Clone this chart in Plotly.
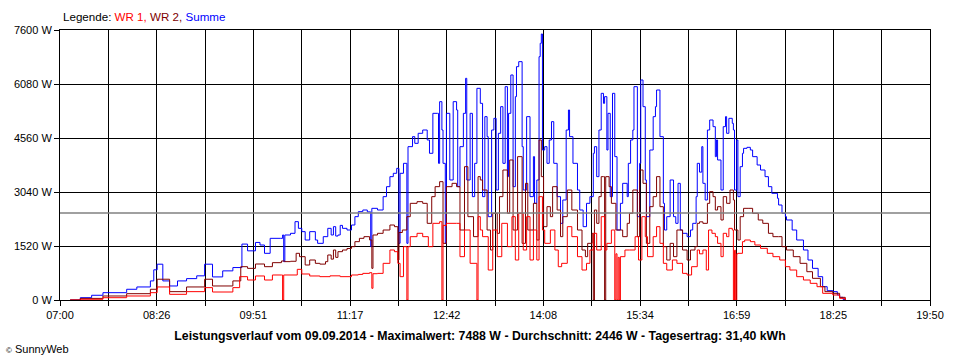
import plotly.graph_objects as go

# ---------------- data ----------------
t_summe = ["07:09","07:18","07:28","07:38","07:59","08:08","08:20","08:23","08:26","08:31","08:37","08:44","08:52","09:01","09:08","09:15","09:24","09:33","09:41","09:46","09:53","09:57","10:01","10:06","10:15","10:17","10:18","10:19","10:24","10:28","10:31","10:34","10:37","10:41","10:46","10:48","10:53","10:57","11:00","11:02","11:04","11:06","11:08","11:10","11:14","11:18","11:21","11:24","11:28","11:32","11:35","11:36","11:41","11:46","11:49","11:52","11:55","11:58","12:00","12:01","12:04","12:07","12:08","12:12","12:14","12:17","12:21","12:25","12:27","12:30","12:34","12:35","12:36","12:38","12:39","12:41","12:42","12:45","12:48","12:51","12:52","12:54","12:57","12:59","13:00","13:03","13:05","13:07","13:09","13:12","13:14","13:16","13:18","13:19","13:22","13:24","13:26","13:28","13:30","13:32","13:34","13:36","13:37","13:39","13:41","13:43","13:44","13:46","13:49","13:50","13:53","13:56","13:59","14:00","14:02","14:04","14:05","14:06","14:07","14:09","14:11","14:13","14:15","14:17","14:20","14:23","14:25","14:28","14:30","14:31","14:34","14:38","14:40","14:43","14:46","14:49","14:52","14:53","14:55","14:57","14:59","15:01","15:02","15:04","15:05","15:07","15:09","15:11","15:13","15:16","15:18","15:22","15:23","15:25","15:27","15:28","15:31","15:33","15:34","15:36","15:38","15:39","15:42","15:45","15:47","15:48","15:51","15:54","15:55","15:57","16:00","16:03","16:05","16:07","16:09","16:11","16:15","16:18","16:20","16:23","16:24","16:26","16:28","16:29","16:31","16:33","16:35","16:38","16:40","16:41","16:42","16:45","16:47","16:49","16:50","16:52","16:55","16:56","16:57","16:59","17:00","17:02","17:04","17:05","17:08","17:11","17:13","17:17","17:20","17:24","17:27","17:30","17:35","17:36","17:39","17:42","17:43","17:48","17:52","17:58","18:02","18:06","18:11","18:15","18:19","18:24","18:28","18:30","18:33","18:35"]
summe = [0,65,133,206,302,367,537,850,1008,537,395,537,602,680,1008,650,820,913,1574,1384,1620,1548,1314,1736,1736,1830,1079,1830,1877,2205,2017,1924,1689,1924,1689,1595,1783,2017,1830,2064,1800,1830,2100,2017,1970,2111,2346,2487,2533,2480,1501,2580,2533,2909,3190,3472,3566,3706,1595,3566,3847,1595,4316,4598,4410,4692,4785,4504,4129,5254,5254,3847,5583,4785,3847,1595,5254,3378,5583,5348,3190,4316,5254,6240,3378,5254,2909,3847,5958,5536,2909,5161,4598,2346,4785,5114,3096,4692,5442,3847,6005,3472,5254,6334,3190,5724,6568,6709,4316,3096,5161,2909,4035,2721,3378,6849,7225,7488,4222,4316,3847,4504,5020,3847,2909,2158,2815,4785,5348,4598,3847,3096,2533,2064,2721,2909,4129,4316,3472,4785,5817,5536,5724,4222,5254,2909,5817,4035,1970,2721,3284,2909,3847,4504,4785,6005,2346,3847,6193,5442,3378,2346,4222,5161,5442,5911,4598,2721,1970,2346,3378,2346,2158,3284,1970,1877,1783,1970,2158,2909,3847,3600,4316,3284,2815,4785,5067,4879,4035,4504,3941,3096,4879,5161,4692,5114,4973,4785,3096,4504,2909,3753,4129,4269,4297,4222,4035,3800,3659,3472,3190,3003,2862,2674,2440,2346,2252,1970,1689,1407,1126,891,657,375,263,235,141,75,19,0]

t_wr2 = ["07:09","07:18","07:38","07:59","08:20","08:26","08:37","08:52","09:08","09:15","09:33","09:40","09:46","09:53","10:01","10:08","10:16","10:19","10:24","10:29","10:32","10:37","10:41","10:46","10:50","10:55","10:57","11:00","11:02","11:04","11:06","11:10","11:14","11:18","11:21","11:25","11:29","11:34","11:36","11:37","11:41","11:46","11:52","11:56","11:59","12:00","12:03","12:07","12:10","12:16","12:21","12:25","12:29","12:32","12:36","12:39","12:42","12:47","12:51","12:54","12:58","13:01","13:06","13:10","13:12","13:14","13:18","13:21","13:23","13:27","13:29","13:32","13:36","13:38","13:41","13:45","13:49","13:52","13:54","13:59","14:02","14:04","14:06","14:08","14:11","14:14","14:16","14:20","14:23","14:25","14:29","14:33","14:38","14:42","14:45","14:47","14:51","14:52","14:53","14:55","14:57","14:59","15:01","15:02","15:03","15:06","15:08","15:12","15:16","15:18","15:22","15:24","15:27","15:31","15:33","15:36","15:39","15:42","15:45","15:48","15:51","15:54","15:57","16:00","16:03","16:06","16:11","16:15","16:18","16:22","16:24","16:26","16:29","16:33","16:35","16:38","16:40","16:42","16:45","16:47","16:50","16:53","16:56","16:57","17:00","17:02","17:05","17:09","17:13","17:18","17:22","17:27","17:31","17:36","17:39","17:43","17:49","17:55","18:01","18:06","18:13","18:17","18:24","18:30","18:35"]
wr2 = [0,45,113,178,302,585,235,367,585,395,537,938,891,1013,938,1051,1098,1080,1090,1314,1220,985,1126,1032,1010,1079,1267,1150,1407,1200,1360,1407,1450,1501,1642,1736,1783,1690,891,1830,1877,1970,2111,2064,1126,1900,1970,2346,2721,2768,2721,2158,2909,3190,3331,1595,3190,3284,3190,1970,3753,2346,1783,3472,3378,3096,1970,1407,2440,1877,2909,3659,2440,3941,1970,4035,1595,3284,1970,2721,1689,4504,3472,2064,2627,2346,3190,2533,1783,2346,3096,2533,1970,1407,1220,1595,1877,0,2533,2158,2909,3472,3472,0,3472,3190,2721,1970,1970,1783,2158,2440,3096,1783,3659,3284,1595,2627,2909,3472,2627,1501,1126,1595,1220,1970,1407,1126,1407,1501,2158,2200,2158,2721,3049,2909,2533,2627,2252,2909,2721,3096,2815,1970,1689,2346,2580,2580,2440,2252,2158,1877,1783,1783,1501,1407,1220,1032,797,610,375,235,188,75,0]

t_wr1 = ["07:09","07:18","07:38","07:59","08:20","08:26","08:37","08:52","09:08","09:15","09:33","09:39","09:46","09:53","10:01","10:08","10:16","10:17","10:18","10:30","10:34","10:41","10:50","10:59","11:08","11:18","11:24","11:28","11:34","11:36","11:37","11:41","11:46","11:52","11:56","11:59","12:01","12:04","12:07","12:08","12:10","12:16","12:21","12:26","12:30","12:36","12:38","12:39","12:42","12:51","12:54","12:58","13:03","13:09","13:10","13:12","13:14","13:19","13:23","13:27","13:31","13:36","13:40","13:43","13:46","13:50","13:53","13:56","13:59","14:02","14:04","14:07","14:09","14:14","14:18","14:21","14:24","14:29","14:33","14:38","14:42","14:46","14:49","14:52","14:55","14:59","15:02","15:04","15:08","15:11","15:12","15:13","15:14","15:15","15:16","15:20","15:24","15:29","15:32","15:35","15:38","15:40","15:45","15:48","15:51","15:54","15:57","16:02","16:06","16:11","16:15","16:19","16:24","16:26","16:29","16:32","16:34","16:37","16:40","16:42","16:45","16:47","16:50","16:52","16:55","16:56","16:57","16:58","16:59","17:00","17:04","17:06","17:11","17:15","17:20","17:26","17:31","17:37","17:42","17:46","17:52","17:58","18:04","18:10","18:15","18:24","18:30","18:35"]
wr1 = [0,20,65,113,206,367,160,235,348,225,348,657,563,676,563,704,704,0,704,863,732,676,657,680,657,704,720,750,769,329,740,750,1032,1407,1360,1032,657,1501,0,1501,1783,1877,1783,1501,2158,2205,0,2100,2158,2158,1220,1970,1032,0,2346,1970,1783,844,1970,1220,2158,1501,2346,1126,2440,1407,2346,1126,1970,1126,2909,1970,1595,1970,1407,938,1032,2064,1783,1220,844,1032,1407,1877,1407,2346,1407,1595,1970,0,1300,0,1200,0,1220,1407,1407,1783,1126,2346,1783,1220,1783,2064,1595,1032,844,1126,1032,750,704,938,1407,1300,1407,844,1970,1877,1783,1595,1220,1877,1783,2017,1970,0,1400,0,1300,1314,1642,1689,1642,1548,1454,1314,1220,1126,938,844,657,563,469,375,188,141,47,0]

average_w = 2446
y_ticks = [0, 1520, 3040, 4560, 6080, 7600]
x_tick_labels = ["07:00", "08:26", "09:51", "11:17", "12:42", "14:08", "15:34", "16:59", "18:25", "19:50"]
title_text = ("Leistungsverlauf vom 09.09.2014 - Maximalwert: 7488 W - "
              "Durchschnitt: 2446 W - Tagesertrag: 31,40 kWh")


def to_min(s):
    h, m = s.split(":")
    return int(h) * 60 + int(m)


x_start, x_end = to_min(x_tick_labels[0]), to_min(x_tick_labels[-1])
n_div = (len(x_tick_labels) - 1) * 2
step = (x_end - x_start) / n_div
tickvals = [x_start + k * step for k in range(n_div + 1)]
ticktext = [x_tick_labels[k // 2] if k % 2 == 0 else "" for k in range(n_div + 1)]

FONT = "Liberation Sans, Arial, sans-serif"

fig = go.Figure()
fig.add_trace(go.Scatter(x=[to_min(t) for t in t_summe], y=summe, mode="lines",
                         line=dict(color="#0000FF", width=1, shape="hv"), name="Summe"))
fig.add_trace(go.Scatter(x=[to_min(t) for t in t_wr2], y=wr2, mode="lines",
                         line=dict(color="#800000", width=1, shape="hv"), name="WR 2"))
fig.add_trace(go.Scatter(x=[to_min(t) for t in t_wr1], y=wr1, mode="lines",
                         line=dict(color="#FF0000", width=1, shape="hv"), name="WR 1"))

fig.add_shape(type="line", xref="paper", x0=0, x1=1, yref="y", y0=average_w, y1=average_w,
              line=dict(color="#808080", width=1.5), layer="above")

fig.update_xaxes(range=[x_start, x_end], tickmode="array", tickvals=tickvals, ticktext=ticktext,
                 showgrid=True, gridcolor="#000000", gridwidth=1,
                 ticks="outside", ticklen=5, tickcolor="#000000", tickwidth=1,
                 showline=True, linecolor="#000000", linewidth=1, mirror=True,
                 zeroline=False, tickfont=dict(family=FONT, size=11, color="#000000"))
fig.update_yaxes(range=[0, y_ticks[-1]], tickmode="array", tickvals=y_ticks,
                 ticktext=[f"{v} W" for v in y_ticks],
                 showgrid=True, gridcolor="#000000", gridwidth=1,
                 ticks="outside", ticklen=5, tickcolor="#000000", tickwidth=1,
                 showline=True, linecolor="#000000", linewidth=1, mirror=True,
                 zeroline=False, tickfont=dict(family=FONT, size=11, color="#000000"))

fig.update_layout(
    width=960, height=360,
    margin=dict(l=60, r=30, t=30, b=60),
    paper_bgcolor="white", plot_bgcolor="white",
    showlegend=False,
    font=dict(family=FONT, size=11, color="#000000"),
    title=dict(text="<b>" + title_text + "</b>", x=0.5, xref="container",
               y=1 - 336 / 360, yref="container", xanchor="center", yanchor="middle",
               font=dict(family=FONT, size=12.3, color="#000000")),
    annotations=[
        dict(xref="paper", yref="paper", x=(61 - 60) / 870, y=(300 - 16) / 270,
             xanchor="left", yanchor="middle", showarrow=False,
             text="Legende: <span style='color:#FF0000'>WR 1,</span> "
                  "<span style='color:#800000'>WR 2,</span> "
                  "<span style='color:#0000FF'>Summe</span>",
             font=dict(family=FONT, size=11.6, color="#000000")),
        dict(xref="paper", yref="paper", x=(4 - 60) / 870, y=(300 - 349) / 270,
             xanchor="left", yanchor="middle", showarrow=False,
             text="<span style='font-size:8px'>©</span> SunnyWeb",
             font=dict(family=FONT, size=11, color="#000000")),
    ],
)

fig.write_html("out.html", post_script="document.body.style.margin='0';",
               config={"displayModeBar": False})
